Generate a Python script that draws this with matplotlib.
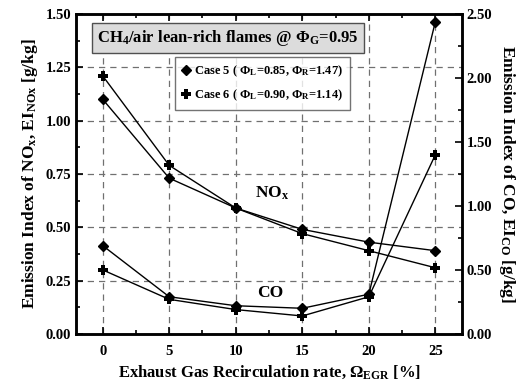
import numpy as np
import matplotlib
matplotlib.use('Agg')
import matplotlib.pyplot as plt
from matplotlib.ticker import MultipleLocator, FormatStrFormatter
from matplotlib.lines import Line2D

plt.rcParams['font.family'] = ['Liberation Serif', 'DejaVu Serif']
plt.rcParams['font.weight'] = 'bold'
plt.rcParams['mathtext.fontset'] = 'custom'
plt.rcParams['mathtext.rm'] = 'Liberation Serif:bold'
plt.rcParams['mathtext.it'] = 'Liberation Serif:bold'
plt.rcParams['mathtext.bf'] = 'Liberation Serif:bold'

# EGR rate [%]
egr = [0, 5, 10, 15, 20, 25]
# NOx emission index (left axis) [g/kg]
nox_case5 = [1.10, 0.73, 0.59, 0.49, 0.43, 0.39]
nox_case6 = [1.21, 0.79, 0.59, 0.47, 0.39, 0.31]
# CO emission index (right axis) [g/kg]
co_case5 = [0.69, 0.29, 0.22, 0.20, 0.31, 2.44]
co_case6 = [0.50, 0.27, 0.19, 0.14, 0.29, 1.40]

label5 = 'Case 5 ( Φ$_{\\mathrm{L}}$=0.85, Φ$_{\\mathrm{R}}$=1.47)'
label6 = 'Case 6 ( Φ$_{\\mathrm{L}}$=0.90, Φ$_{\\mathrm{R}}$=1.14)'

fig = plt.figure(figsize=(5.28, 3.86), dpi=100)
ax1 = fig.add_axes([0.144, 0.135, 0.731, 0.829])
ax2 = ax1.twinx()

lw = 1.0
ax1.plot(egr, nox_case5, c='k', lw=lw, marker='D', ms=5)
ax1.plot(egr, nox_case6, c='k', lw=lw, marker='P', ms=7, mew=0)
ax2.plot(egr, co_case5, c='k', lw=lw, marker='D', ms=5)
ax2.plot(egr, co_case6, c='k', lw=lw, marker='P', ms=7, mew=0)

ax1.set_xlim(-2, 27)
ax1.set_ylim(0, 1.5)
ax2.set_ylim(0, 2.5)
ax1.xaxis.set_major_locator(MultipleLocator(5))
ax1.xaxis.set_minor_locator(MultipleLocator(2.5))
ax1.yaxis.set_major_locator(MultipleLocator(0.25))
ax1.yaxis.set_minor_locator(MultipleLocator(0.125))
ax1.yaxis.set_major_formatter(FormatStrFormatter('%.2f'))
ax2.yaxis.set_major_locator(MultipleLocator(0.5))
ax2.yaxis.set_minor_locator(MultipleLocator(0.25))
ax2.yaxis.set_major_formatter(FormatStrFormatter('%.2f'))

ax1.grid(True, which='major', ls=(0, (5, 4)), c='#707070', lw=0.9)
for ax in (ax1, ax2):
    ax.tick_params(which='both', direction='in', labelsize=10.5, width=1.2)
    ax.tick_params(which='major', length=5)
    ax.tick_params(which='minor', length=3)
    for s in ax.spines.values():
        s.set_linewidth(1.8)
ax1.tick_params(which='both', top=True)
ax1.tick_params(axis='x', pad=8)

ax1.set_xlabel('Exhaust Gas Recirculation rate, Ω$_{\\mathrm{EGR}}$ [%]', fontsize=12, fontweight='bold', labelpad=4)
ax1.set_ylabel('Emission Index of NO$_{\\mathrm{x}}$, EI$_{\\mathrm{NOx}}$ [g/kg]', fontsize=12.5, fontweight='bold')
ax2.set_ylabel('Emission Index of CO, EI$_{\\mathrm{CO}}$ [g/kg]', fontsize=12.5, fontweight='bold',
               rotation=270, labelpad=18)

ax1.text(12.7, 0.66, 'NO$_{\\mathrm{x}}$', fontsize=12.5, fontweight='bold', ha='center', va='center')
ax1.text(12.6, 0.19, 'CO', fontsize=12.5, fontweight='bold', ha='center', va='center')

ax1.text(0.055, 0.925, 'CH$_{\\mathrm{4}}$/air lean-rich flames @ Φ$_{\\mathrm{G}}$=0.95', transform=ax1.transAxes,
         fontsize=12, fontweight='bold', ha='left', va='center',
         bbox=dict(boxstyle='square,pad=0.3', fc='#dcdcdc', ec='#505050', lw=1))

handles = [Line2D([], [], c='k', lw=0, marker='D', ms=5),
           Line2D([], [], c='k', lw=0, marker='P', ms=7, mew=0)]
leg = ax1.legend(handles, [label5, label6], loc='upper left', bbox_to_anchor=(0.24, 0.885),
                 prop={'size': 9, 'weight': 'bold'}, frameon=True, fancybox=False,
                 handlelength=0.6, handletextpad=0.4, borderpad=0.55, labelspacing=0.7)
leg.get_frame().set_edgecolor('#505050')
leg.get_frame().set_linewidth(1)

fig.savefig('out.png', dpi=100)
